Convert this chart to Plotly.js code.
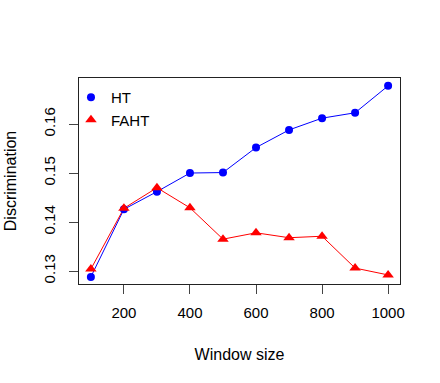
<!DOCTYPE html>
<html>
<head>
<meta charset="utf-8">
<script src="https://cdn.plot.ly/plotly-3.0.1.min.js"></script>
<style>
  html, body { margin: 0; padding: 0; background: #fff; }
  #chart { width: 440px; height: 383px; }
</style>
</head>
<body>
<div id="chart"></div>
<script>
// window sizes and discrimination values
const windowSizes = [100, 200, 300, 400, 500, 600, 700, 800, 900, 1000];
const htValues = [0.1288, 0.1426, 0.1462, 0.1500, 0.1501, 0.1552, 0.1588, 0.1612, 0.1623, 0.1678];
const fahtValues = [0.1304, 0.1428, 0.1470, 0.1429, 0.1365, 0.1378, 0.1368, 0.1371, 0.1306, 0.1292];
const xTicks = [200, 400, 600, 800, 1000];
const yTicks = [0.13, 0.14, 0.15, 0.16];

const font = { family: 'Liberation Sans, Arial, sans-serif', size: 15, color: '#000' };
const titleFont = Object.assign({}, font, { size: 16 });

// lines go in their own traces so the legend only shows the marker symbol, like R's legend()
const series = [
    { name: 'HT', y: htValues, color: '#0000ff', symbol: 'circle', size: 8 },
    { name: 'FAHT', y: fahtValues, color: '#ff0000', symbol: 'triangle-up', size: 10 }
];

const traces = [];
series.forEach(s => {
    traces.push({
        x: windowSizes, y: s.y, type: 'scatter', mode: 'lines',
        line: { color: s.color, width: 1 }, showlegend: false, hoverinfo: 'skip'
    });
});
series.forEach(s => {
    traces.push({
        x: windowSizes, y: s.y, name: s.name, type: 'scatter', mode: 'markers',
        marker: { color: s.color, symbol: s.symbol, size: s.size }
    });
});

const axisCommon = {
    showgrid: false, zeroline: false,
    showline: true, mirror: true, linecolor: '#222', linewidth: 1,
    ticks: 'outside', ticklen: 9, tickcolor: '#444', tickwidth: 1,
    tickfont: font
};

const layout = {
    width: 440, height: 383,
    margin: { l: 79, r: 40, t: 78, b: 99 },
    paper_bgcolor: '#fff', plot_bgcolor: '#fff',
    font: font,
    showlegend: true,
    legend: {
        x: -0.025, y: 0.985, xanchor: 'left', yanchor: 'top',
        bgcolor: 'rgba(0,0,0,0)', font: font,
        itemwidth: 30, tracegroupgap: 0
    },
    xaxis: Object.assign({}, axisCommon, {
        range: [64, 1036],
        tickvals: xTicks, ticktext: xTicks.map(String),
        ticklabelstandoff: 6,
        title: { text: 'Window size', font: titleFont, standoff: 28 }
    }),
    yaxis: Object.assign({}, axisCommon, {
        range: [0.12735, 0.1694],
        tickvals: yTicks, ticktext: yTicks.map(v => v.toFixed(2)),
        tickangle: -90,
        ticklabelstandoff: 8,
        title: { text: 'Discrimination', font: titleFont, standoff: 20 }
    })
};

Plotly.newPlot('chart', traces, layout, { displayModeBar: false, staticPlot: true });
</script>
</body>
</html>
